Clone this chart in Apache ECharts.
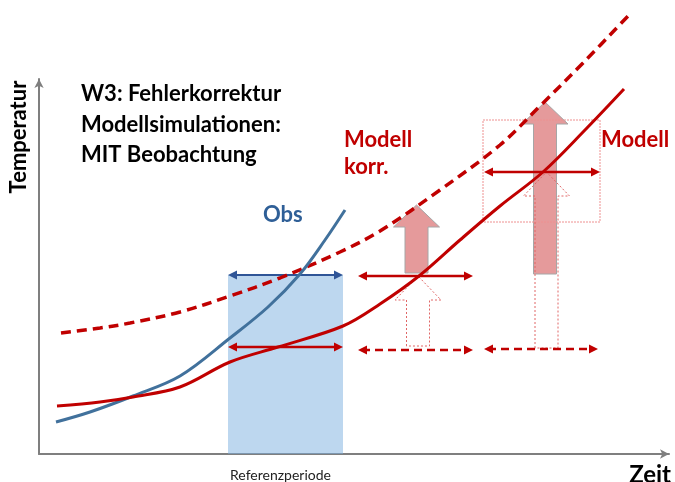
<!DOCTYPE html>
<html>
<head>
<meta charset="utf-8">
<script src="https://cdn.jsdelivr.net/npm/echarts@6/dist/echarts.min.js"></script>
<style>
  html, body { margin: 0; padding: 0; background: #fff; }
  #chart { width: 675px; height: 482px; }
</style>
</head>
<body>
<div id="chart"></div>
<script>
// schematic, units = offsets from the axis origin
var obsX = [17, 51, 94, 141, 191, 229, 261, 286, 306];
var obsY = [32, 42, 58, 78, 116, 147, 180, 214, 244];
var modX = [18, 61, 94, 141, 191, 239, 304, 341, 380, 421, 461, 504, 546, 585];
var modY = [48, 52, 57, 67, 92, 107, 128, 150, 178, 214, 248, 282, 324, 365];
var korrX = [22, 61, 91, 141, 191, 241, 301, 341, 401, 461, 501, 544, 589];
var korrY = [121, 126, 131, 142, 158, 176, 202, 223, 264, 309, 348, 391, 438];
// reference period [x1, x2, top]
var refPeriod = [[189, 304, 179]];
// double arrows [x1, x2, y]
var blueArrows = [[189, 304, 179]];
var redArrows = [[189, 304, 107], [319, 434, 178], [445, 561, 282]];
var redDashArrows = [[319, 434, 104], [445, 559, 105]];
// up arrows [x, bottom, tip]
var corrArrows = [[377.5, 181, 249], [506, 180, 352]];
var ghostArrows = [[379, 108, 178], [507.5, 106, 282]];
// frame round the right projection [x1, x2, y1, y2]
var frameBox = [[444, 561, 232, 334]];

var RED = '#c00000';
var BLUE = '#41719c';

function pairs(xs, ys) {
  return xs.map(function (x, i) { return [x, ys[i]]; });
}

function dblArrow(color, dash, width) {
  return function (params, api) {
    var a = api.coord([api.value(0), api.value(2)]);
    var b = api.coord([api.value(1), api.value(2)]);
    var L = 9, W = 4.5;
    return {
      type: 'group',
      children: [
        { type: 'line', shape: { x1: a[0] + 4, y1: a[1], x2: b[0] - 4, y2: b[1] },
          style: { stroke: color, lineWidth: width, lineDash: dash } },
        { type: 'polygon', shape: { points: [[a[0], a[1]], [a[0] + L, a[1] - W], [a[0] + L, a[1] + W]] },
          style: { fill: color } },
        { type: 'polygon', shape: { points: [[b[0], b[1]], [b[0] - L, b[1] - W], [b[0] - L, b[1] + W]] },
          style: { fill: color } }
      ]
    };
  };
}

function upArrow(style, headH) {
  return function (params, api) {
    var c = api.coord([api.value(0), api.value(1)]);
    var t = api.coord([api.value(0), api.value(2)]);
    var sw = 11.5, hw = 23;
    var hy = t[1] + headH;
    return {
      type: 'polygon',
      shape: { points: [
        [c[0] - sw, c[1]], [c[0] - sw, hy], [c[0] - hw, hy], [t[0], t[1]],
        [c[0] + hw, hy], [c[0] + sw, hy], [c[0] + sw, c[1]]
      ] },
      style: style
    };
  };
}

var chart = echarts.init(document.getElementById('chart'));
var axisCommon = {
  type: 'value',
  axisLine: { show: true, symbol: ['none', 'arrow'], symbolSize: [7, 9],
    lineStyle: { color: '#7f7f7f', width: 2 } },
  axisTick: { show: false },
  axisLabel: { show: false },
  splitLine: { show: false }
};
var bold = { fontFamily: 'Lato', fontWeight: 'bold', fontSize: 22, verticalAlign: 'middle' };
function txt(x, y, text, fill, extra) {
  return { type: 'text', x: x, y: y, style: Object.assign({ text: text, fill: fill }, bold, extra || {}) };
}

chart.setOption({
  animation: false,
  backgroundColor: '#fff',
  grid: { left: 39, right: 6, top: 79, bottom: 28 },
  xAxis: Object.assign({ min: 0, max: 630 }, axisCommon),
  yAxis: Object.assign({ min: 0, max: 375 }, axisCommon),
  graphic: [
    txt(81, 94, 'W3: Fehlerkorrektur', '#000'),
    txt(81, 125, 'Modellsimulationen:', '#000'),
    txt(81, 155, 'MIT Beobachtung', '#000'),
    txt(263, 215, 'Obs', '#2f5f97'),
    txt(344, 140, 'Modell', RED),
    txt(344, 167, 'korr.', RED),
    txt(601, 140, 'Modell', RED),
    { type: 'text', x: 19, y: 137, rotation: Math.PI / 2,
      style: Object.assign({ text: 'Temperatur', fill: '#000', align: 'center' }, bold) },
    txt(671, 475, 'Zeit', '#000', { fontSize: 24, align: 'right' }),
    { type: 'text', x: 230, y: 475, style: { text: 'Referenzperiode', fontFamily: 'Lato', fontSize: 14, fill: '#222', verticalAlign: 'middle' } }
  ],
  series: [
    {
      name: 'Korrektur', type: 'custom', clip: false, data: corrArrows,
      renderItem: upArrow({ fill: '#e59a9b', stroke: '#a6a6a6', lineWidth: 1 }, 22)
    },
    {
      name: 'Modell korr.', type: 'line', clip: false, showSymbol: false, smooth: 0.35,
      data: pairs(korrX, korrY),
      lineStyle: { color: RED, width: 3.5, type: [10, 6] }
    },
    {
      name: 'Referenzperiode', type: 'custom', clip: false, data: refPeriod,
      renderItem: function (params, api) {
        var a = api.coord([api.value(0), api.value(2)]);
        var b = api.coord([api.value(1), 0]);
        return { type: 'rect', shape: { x: a[0], y: a[1], width: b[0] - a[0], height: b[1] - a[1] },
          style: { fill: 'rgba(124,176,223,0.5)' } };
      }
    },
    {
      name: 'Rahmen', type: 'custom', clip: false, data: frameBox,
      renderItem: function (params, api) {
        var a = api.coord([api.value(0), api.value(3)]);
        var b = api.coord([api.value(1), api.value(2)]);
        return { type: 'rect', shape: { x: a[0], y: a[1], width: b[0] - a[0], height: b[1] - a[1] },
          style: { fill: 'none', stroke: '#ee9090', lineWidth: 1, lineDash: [2, 1] } };
      }
    },
    {
      name: 'Modell alt', type: 'custom', clip: false, data: ghostArrows,
      renderItem: upArrow({ fill: 'none', stroke: '#e06666', lineWidth: 1, lineDash: [2, 2] }, 24)
    },
    {
      name: 'Obs', type: 'line', clip: false, showSymbol: false, smooth: 0.35,
      data: pairs(obsX, obsY),
      lineStyle: { color: BLUE, width: 3 }
    },
    {
      name: 'Modell', type: 'line', clip: false, showSymbol: false, smooth: 0.35,
      data: pairs(modX, modY),
      lineStyle: { color: RED, width: 3 }
    },
    { name: 'obs range', type: 'custom', clip: false, data: blueArrows, renderItem: dblArrow('#2f5597', null, 2) },
    { name: 'model range', type: 'custom', clip: false, data: redArrows, renderItem: dblArrow(RED, null, 2.5) },
    { name: 'model range dashed', type: 'custom', clip: false, data: redDashArrows, renderItem: dblArrow(RED, [8, 5], 2.5) }
  ]
});
</script>
</body>
</html>
